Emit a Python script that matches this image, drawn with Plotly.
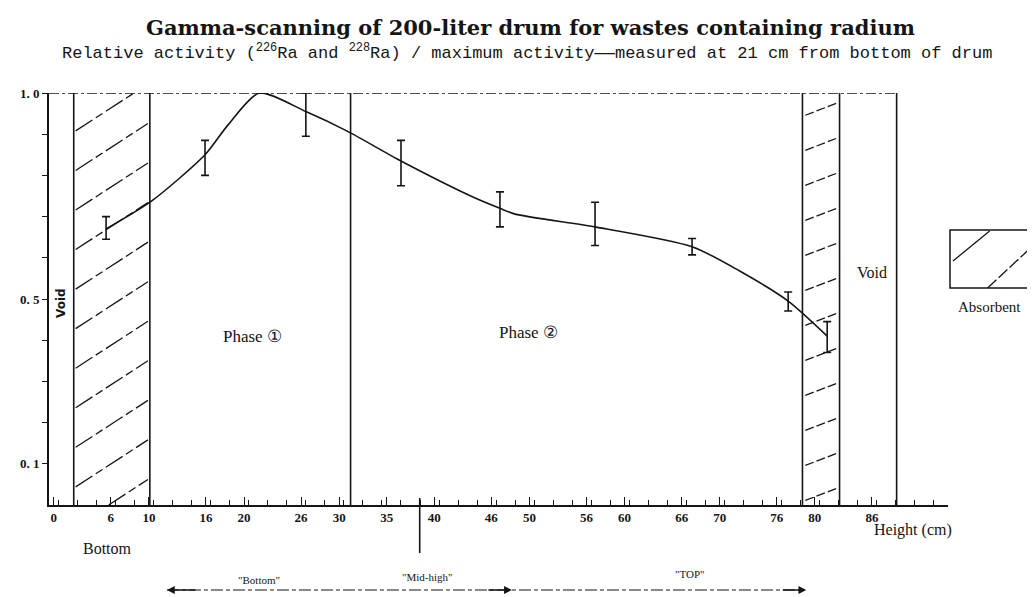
import plotly.graph_objects as go

# ---------------- data ----------------
height_cm = [5.5, 15.9, 21.6, 26.5, 36.5, 46.9, 56.9, 67.1, 77.2, 81.3]
rel_activity = [0.67, 0.85, 1.0, 0.955, 0.835, 0.72, 0.675, 0.627, 0.495, 0.41]
err_plus = [0.03, 0.035, 0.0, 0.045, 0.05, 0.04, 0.06, 0.02, 0.022, 0.035]
err_minus = [0.025, 0.05, 0.0, 0.06, 0.06, 0.045, 0.045, 0.02, 0.024, 0.04]

# traced curve through the measurements
curve_x = [5.5, 10.3, 15.9, 18.3, 21.6, 26.5, 30.8, 36.5, 44.3, 46.9, 48.5, 56.9, 67.1, 72.1, 77.2, 81.3]
curve_y = [0.67, 0.738, 0.85, 0.922, 1.0, 0.955, 0.908, 0.835, 0.745, 0.72, 0.706, 0.675, 0.627, 0.568, 0.495, 0.41]

x_tick_vals = [0, 6, 10, 16, 20, 26, 30, 35, 40, 46, 50, 56, 60, 66, 70, 76, 80, 86]
x_tick_text = ["0", "6", "10", "16", "20", "26", "30", "35", "40", "46", "50", "56", "60", "66", "70", "76", "80", "86"]
y_tick_vals = [0.1, 0.2, 0.3, 0.4, 0.5, 0.6, 0.7, 0.8, 0.9, 1.0]
y_tick_text = ["0. 1", "", "", "", "0. 5", "", "", "", "", "1. 0"]

# zone boundaries (cm): absorbent bottom, phase1, phase2, absorbent top, void
absorbent_low = [2.1, 10.1]
phase_split = 31.2
absorbent_high = [78.7, 82.6]
void_top = 88.6

# ---------------- layout geometry ----------------
W, H = 1035, 597
L, R, T, B = 33, 95, 85, 100
PW, PH = W - L - R, H - T - B
XMIN, XMAX = -0.5, 94.0

def px(xp):
    return (xp - L) / PW

def py(yp):
    return (H - B - yp) / PH

INK = "#151515"
SERIF = "DejaVu Serif, Liberation Serif, serif"
SERIF2 = "Liberation Serif, Times New Roman, serif"
MONO = "Liberation Mono, DejaVu Sans Mono, monospace"

fig = go.Figure()

fig.add_trace(go.Scatter(
    x=curve_x, y=curve_y, mode="lines",
    line=dict(color=INK, width=1.6, shape="spline", smoothing=0.7),
    hoverinfo="skip", showlegend=False))

fig.add_trace(go.Scatter(
    x=height_cm, y=rel_activity, mode="markers",
    marker=dict(size=1, color=INK),
    error_y=dict(type="data", symmetric=False, array=err_plus, arrayminus=err_minus,
                 color=INK, thickness=1.6, width=4),
    showlegend=False))

shapes = []

def vline(x, dash="solid", width=1.6):
    shapes.append(dict(type="line", xref="x", yref="y", x0=x, x1=x, y0=0, y1=1.0,
                       line=dict(color=INK, width=width, dash=dash)))

for xv in absorbent_low + [phase_split] + absorbent_high + [void_top]:
    vline(xv)

# top reference line (maximum activity)
shapes.append(dict(type="line", xref="x", yref="y", x0=XMIN, x1=void_top, y0=1.0, y1=1.0,
                   line=dict(color=INK, width=1.3, dash="10px,3px,3px,3px")))

def hatch(x0, x1, starts, rise, dash):
    for y0 in starts:
        y1 = y0 + rise
        xa, ya, xb, yb = x0, y0, x1, y1
        if yb > 1.0:
            xb = x0 + (1.0 - y0) / rise * (x1 - x0)
            yb = 1.0
        if ya < 0.0:
            xa = x0 + (0.0 - y0) / rise * (x1 - x0)
            ya = 0.0
        if xb <= xa:
            continue
        shapes.append(dict(type="line", xref="x", yref="y", x0=xa, y0=ya, x1=xb, y1=yb,
                           line=dict(color=INK, width=1.3, dash=dash)))

hatch(absorbent_low[0] + 0.2, absorbent_low[1] - 0.2,
      [0.908 - k * 0.096 for k in range(11)], 0.114, "20px,4px,8px,4px")
hatch(absorbent_high[0] + 0.3, absorbent_high[1] - 0.2,
      [0.946 - k * 0.085 for k in range(12)], 0.03, "9px,3px")

# legend box "Absorbent"
shapes.append(dict(type="rect", xref="paper", yref="paper",
                   x0=px(942), x1=px(1023), y0=py(280), y1=py(222),
                   line=dict(color=INK, width=1.5)))
shapes.append(dict(type="line", xref="paper", yref="paper",
                   x0=px(945), y0=py(253), x1=px(982), y1=py(223),
                   line=dict(color=INK, width=1.3)))
shapes.append(dict(type="line", xref="paper", yref="paper",
                   x0=px(980), y0=py(280), x1=px(1020), y1=py(243),
                   line=dict(color=INK, width=1.3, dash="12px,3px")))

# small marker below the axis
shapes.append(dict(type="line", xref="paper", yref="paper",
                   x0=px(407), x1=px(407), y0=py(490), y1=py(545),
                   line=dict(color=INK, width=1.6)))

# bottom zone arrow row
ARROW_Y = 582
shapes.append(dict(type="line", xref="paper", yref="paper",
                   x0=px(152), x1=px(795), y0=py(ARROW_Y), y1=py(ARROW_Y),
                   line=dict(color=INK, width=1.2, dash="12px,3px,4px,3px")))

annotations = []

def text(xp, yp, s, size, family=SERIF2, angle=0, weight="normal"):
    annotations.append(dict(xref="paper", yref="paper", x=px(xp), y=py(yp), text=s,
                            showarrow=False, textangle=angle,
                            font=dict(size=size, family=family, color=INK, weight=weight),
                            xanchor="center", yanchor="middle"))

text(519, 20, "Gamma-scanning of 200-liter drum for wastes containing radium", 21,
     family=SERIF, weight="bold")
text(515, 44, "Relative activity (<sup>226</sup>Ra and <sup>228</sup>Ra) / maximum activity"
     "——measured at 21 cm from bottom of drum", 17, family=MONO)
text(45, 295, "Void", 12, family="DejaVu Sans, sans-serif", angle=-90, weight="bold")
text(238, 328, "Phase ①", 17)
text(517, 324, "Phase ②", 17)
text(863, 264, "Void", 16)
text(982, 299, "Absorbent", 15)
text(905, 522, "Height (cm)", 16)
text(92, 540, "Bottom", 16)
text(245, 572, "\"Bottom\"", 11)
text(415, 569, "\"Mid-high\"", 11)
text(680, 566, "\"TOP\"", 11)

def arrow(head_x, dx):
    annotations.append(dict(xref="paper", yref="paper", x=px(head_x), y=py(ARROW_Y),
                            ax=dx, ay=0, text="", showarrow=True, arrowhead=2,
                            arrowsize=1.2, arrowwidth=1.3, arrowcolor=INK))

arrow(152, 30)
arrow(500, -25)
arrow(797, -25)

fig.update_layout(
    width=W, height=H,
    margin=dict(l=L, r=R, t=T, b=B),
    paper_bgcolor="white", plot_bgcolor="white",
    shapes=shapes, annotations=annotations,
    showlegend=False,
    xaxis=dict(range=[XMIN, XMAX], showgrid=False, zeroline=False,
               showline=True, linecolor=INK, linewidth=1.6,
               tickmode="array", tickvals=x_tick_vals, ticktext=x_tick_text,
               ticks="inside", ticklen=8, tickwidth=1.2, tickcolor=INK,
               minor=dict(dtick=2, tick0=0.5, ticks="inside", ticklen=5, tickwidth=1, tickcolor=INK),
               tickfont=dict(family=SERIF2, size=13, color=INK, weight="bold")),
    yaxis=dict(range=[0, 1.0], showgrid=False, zeroline=False,
               showline=True, linecolor=INK, linewidth=1.6,
               tickmode="array", tickvals=y_tick_vals, ticktext=y_tick_text,
               ticks="outside", ticklen=5, tickwidth=1.2, tickcolor=INK,
               tickfont=dict(family=SERIF2, size=13, color=INK, weight="bold")),
)

fig.write_html("out.html")
